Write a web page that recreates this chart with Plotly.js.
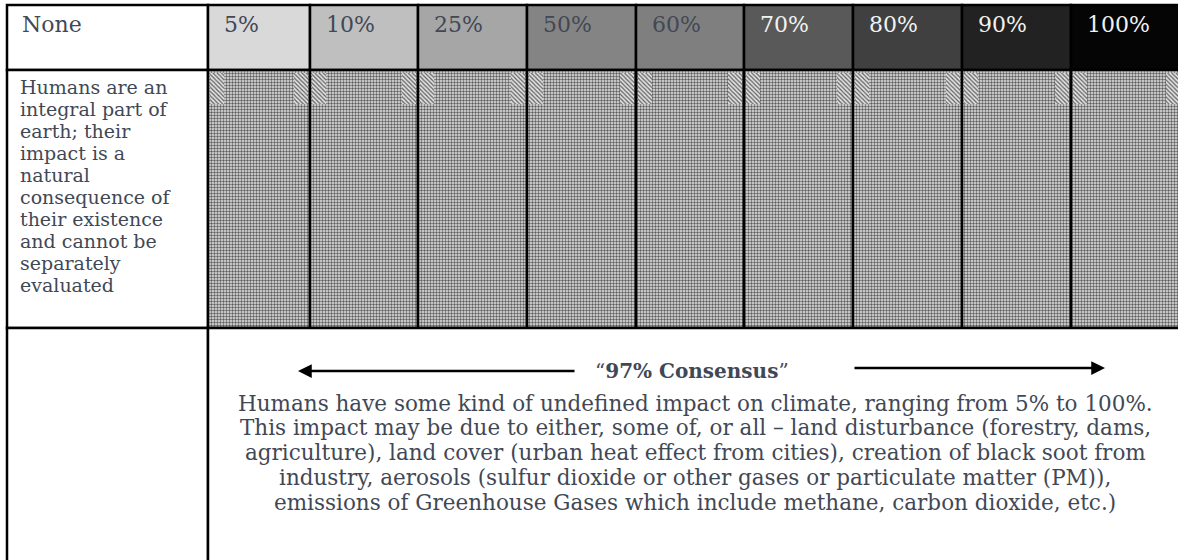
<!DOCTYPE html>
<html>
<head>
<meta charset="utf-8">
<script src="https://cdn.plot.ly/plotly-3.0.1.min.js"></script>
<style>
  html, body { margin: 0; padding: 0; background: #fff; }
  #chart { width: 1178px; height: 560px; }
</style>
</head>
<body>
<div id="chart"></div>
<script>
// levels of human impact, one column each
const impactLevels = [0, 5, 10, 25, 50, 60, 70, 80, 90, 100];
const headerLabels = impactLevels.map(v => (v === 0 ? "None" : v + "%"));

const noneText = [
  "Humans are an", "integral part of", "earth; their", "impact is a", "natural",
  "consequence of", "their existence", "and cannot be", "separately", "evaluated"
];

const consensusLabel = "“<b>97% Consensus</b>”";
const consensusText = [
  "Humans have some kind of undefined impact on climate, ranging from 5% to 100%.",
  "This impact may be due to either, some of, or all – land disturbance (forestry, dams,",
  "agriculture), land cover (urban heat effect from cities), creation of black soot from",
  "industry, aerosols (sulfur dioxide or other gases or particulate matter (PM)),",
  "emissions of Greenhouse Gases which include methane, carbon dioxide, etc.)"
];

// layout of the table (pixels, axes run 1:1 with the page)
const colEdges = [7, 208, 310, 418, 527, 636, 744, 853, 962, 1071, 1182];
const shades = ["#ffffff", "#d9d9d9", "#bfbfbf", "#a6a6a6", "#848484",
                "#7f7f7f", "#595959", "#404040", "#222222", "#050505"];
const rowTop = 5, rowMid = 70, rowBot = 328;
const ink = "#414855";
const font = "DejaVu Serif";

const centers = [], widths = [];
for (let i = 0; i < impactLevels.length; i++) {
  centers.push((colEdges[i] + colEdges[i + 1]) / 2);
  widths.push(colEdges[i + 1] - colEdges[i]);
}
const border = { color: "#000", width: 2.5 };

const header = {
  type: "bar", x: centers, width: widths,
  base: centers.map(() => rowTop), y: centers.map(() => rowMid - rowTop),
  marker: { color: shades, line: border },
  hoverinfo: "skip"
};

// hatched "effect" row, the first cell stays white
const hatchX = centers.slice(1), hatchW = widths.slice(1);
const hatched = {
  type: "bar", x: hatchX, width: hatchW,
  base: hatchX.map(() => rowMid), y: hatchX.map(() => rowBot - rowMid),
  marker: {
    color: "#d0d0d0", line: border,
    pattern: { shape: ".", size: 3, solidity: 0.5, fgcolor: "#5e5e5e", bgcolor: "#e6e6e6" }
  },
  hoverinfo: "skip"
};
const noneCell = {
  type: "bar", x: [centers[0]], width: [widths[0]],
  base: [rowMid], y: [rowBot - rowMid],
  marker: { color: "#fff", line: border }, hoverinfo: "skip"
};

// diagonal strips at the top corners of each hatched cell
const stripX = [];
for (let i = 1; i < impactLevels.length; i++) {
  stripX.push(colEdges[i] + 9, colEdges[i + 1] - 9);
}
const strips = {
  type: "bar", x: stripX, width: stripX.map(() => 14),
  base: stripX.map(() => rowMid + 3), y: stripX.map(() => 31),
  marker: {
    color: "#bbb", line: { width: 0 },
    pattern: { shape: "\\", size: 3, solidity: 0.4, fgcolor: "#606060", bgcolor: "#e2e2e2" }
  },
  hoverinfo: "skip"
};

const bottom = {
  type: "bar", x: [centers[0], (colEdges[1] + 1300) / 2], width: [widths[0], 1300 - colEdges[1]],
  base: [rowBot, rowBot], y: [300, 300],
  marker: { color: "#fff", line: border }, hoverinfo: "skip"
};

const annotations = [];
headerLabels.forEach((t, i) => {
  annotations.push({
    x: colEdges[i] + (i === 0 ? 13 : 14), y: 24, xref: "x", yref: "y",
    text: t, showarrow: false, xanchor: "left", yanchor: "middle",
    font: { family: font, size: 22, color: i >= 6 ? "#f2f2f2" : ink }
  });
});
noneText.forEach((t, i) => {
  annotations.push({
    x: 18, y: 87 + i * 22, xref: "x", yref: "y",
    text: t, showarrow: false, xanchor: "left", yanchor: "middle",
    font: { family: font, size: 19, color: ink }
  });
});
annotations.push({
  x: 692, y: 371, xref: "x", yref: "y", text: consensusLabel, showarrow: false,
  xanchor: "center", yanchor: "middle", font: { family: font, size: 20, color: ink }
});
consensusText.forEach((t, i) => {
  annotations.push({
    x: 695, y: 403 + i * 24.8, xref: "x", yref: "y",
    text: t, showarrow: false, xanchor: "center", yanchor: "middle",
    font: { family: font, size: 21.5, color: ink }
  });
});
// arrows either side of the label
[[298, 371, 576, 371], [1105, 368, 853, 368]].forEach(a => {
  annotations.push({
    x: a[0], y: a[1], ax: a[2], ay: a[3], xref: "x", yref: "y", axref: "x", ayref: "y",
    text: "", showarrow: true, arrowhead: 2, arrowsize: 1.1, arrowwidth: 2.5, arrowcolor: "#000"
  });
});

const layout = {
  width: 1178, height: 560,
  margin: { l: 0, r: 0, t: 0, b: 0 },
  paper_bgcolor: "#fff", plot_bgcolor: "#fff",
  barmode: "overlay", showlegend: false,
  xaxis: { range: [0, 1178], visible: false, fixedrange: true },
  yaxis: { range: [560, 0], visible: false, fixedrange: true },
  annotations: annotations
};

Plotly.newPlot("chart", [header, noneCell, hatched, strips, bottom], layout, { displayModeBar: false, staticPlot: true });
</script>
</body>
</html>
